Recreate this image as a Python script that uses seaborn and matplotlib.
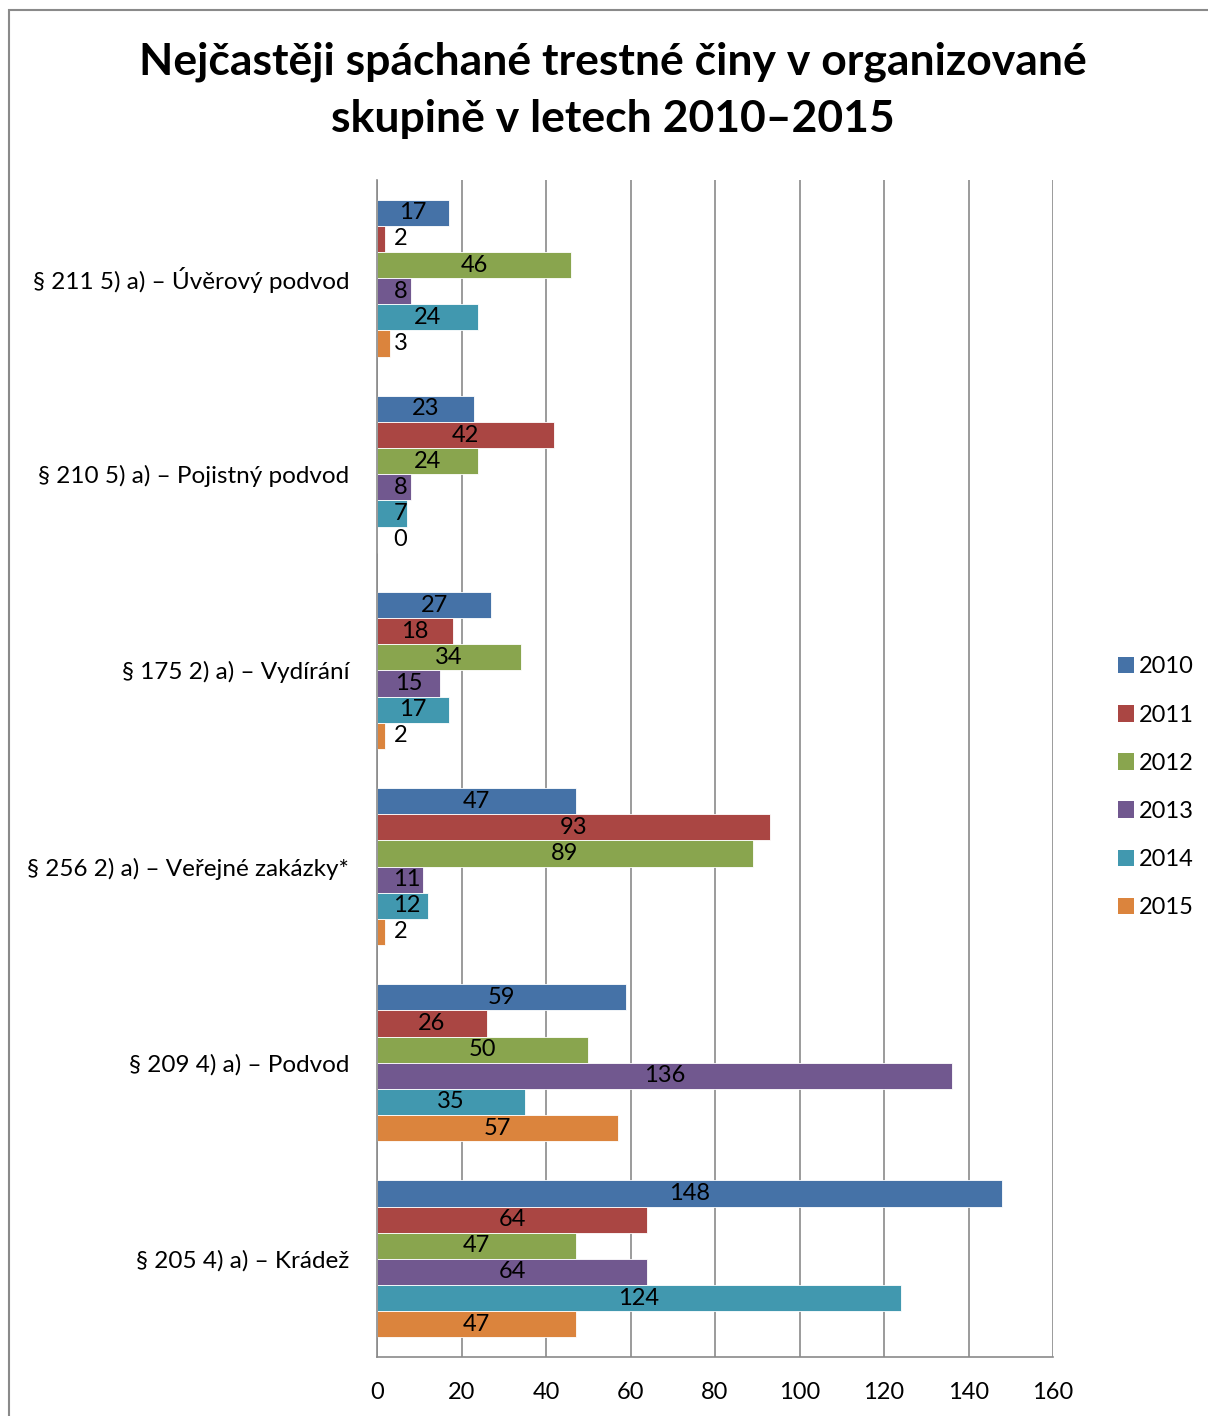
import numpy as np
import pandas as pd
import matplotlib
matplotlib.use("Agg")
import matplotlib.pyplot as plt
from matplotlib.patches import Rectangle, Patch
import seaborn as sns

# data
categories = ["§ 211 5) a) – Úvěrový podvod",
              "§ 210 5) a) – Pojistný podvod",
              "§ 175 2) a) – Vydírání",
              "§ 256 2) a) – Veřejné zakázky*",
              "§ 209 4) a) – Podvod",
              "§ 205 4) a) – Krádež"]
years = ["2010", "2011", "2012", "2013", "2014", "2015"]
v2010 = [17, 23, 27, 47, 59, 148]
v2011 = [2, 42, 18, 93, 26, 64]
v2012 = [46, 24, 34, 89, 50, 47]
v2013 = [8, 8, 15, 11, 136, 64]
v2014 = [24, 7, 17, 12, 35, 124]
v2015 = [3, 0, 2, 2, 57, 47]
colors = ["#4572A7", "#AA4643", "#89A54E", "#71588F", "#4198AF", "#DB843D"]

rows = []
for yr, vals in zip(years, [v2010, v2011, v2012, v2013, v2014, v2015]):
    for cat, v in zip(categories, vals):
        rows.append({"cat": cat, "year": yr, "value": v})
df = pd.DataFrame(rows)

sns.set_style("white")
plt.rcParams['font.family'] = ['Lato', 'DejaVu Sans']
plt.rcParams['text.color'] = 'black'
plt.rcParams['xtick.labelcolor'] = 'black'
plt.rcParams['ytick.labelcolor'] = 'black'

fig = plt.figure(figsize=(12.08, 14.16), dpi=100)
ax = fig.add_axes([377/1208, 1-1357/1416, (1053-377)/1208, (1357-180)/1416])

sns.barplot(data=df, y="cat", x="value", hue="year", orient="h",
            palette=colors, width=0.8, saturation=1, edgecolor="white",
            linewidth=0.6, ax=ax, legend=False)

ax.set_xlim(0, 160)
ax.set_ylim(5.5, -0.5)
ax.set_xticks(range(0, 161, 20))
ax.set_xlabel("")
ax.set_ylabel("")
ax.grid(axis="x", color="#8a8a8a", linewidth=1.2)
ax.set_axisbelow(True)
for s in ["top", "right"]:
    ax.spines[s].set_visible(False)
for s in ["left", "bottom"]:
    ax.spines[s].set_color("#8a8a8a")
    ax.spines[s].set_linewidth(1.2)
ax.tick_params(axis="x", direction="out", length=7, color="#8a8a8a", width=1.2,
               labelsize=17, pad=11, labelcolor="black")
ax.tick_params(axis="y", which="major", length=0, labelsize=17.5, pad=20,
               labelcolor="black")
ax.set_yticks(np.arange(-0.5, 6, 1), minor=True)
ax.tick_params(axis="y", which="minor", direction="out", length=6, color="#8a8a8a", width=1.2)

# bar labels
px_per_unit = (1053 - 377) / 160
for cont in ax.containers:
    for bar in cont:
        v = bar.get_width()
        n = len(str(int(round(v))))
        xmin = (17 + 6.5 * n) / px_per_unit
        x = max(v / 2, xmin)
        y = bar.get_y() + bar.get_height() / 2
        ax.text(x, y, f"{int(round(v))}", ha="center", va="center",
                fontsize=17, color="black")

handles = [Patch(facecolor=c, edgecolor="none") for c in colors]
ax.legend(handles, years, loc="center left", bbox_to_anchor=(1.064, 0.484),
          frameon=False, fontsize=17, handlelength=0.7, handleheight=0.7,
          handletextpad=0.2, labelspacing=1.15, labelcolor="black")

fig.text(613/1208, 1-62/1416, "Nejčastěji spáchané trestné činy v organizované",
         ha="center", va="center", fontsize=32, fontweight="bold", color="black")
fig.text(613/1208, 1-119/1416, "skupině v letech 2010–2015",
         ha="center", va="center", fontsize=32, fontweight="bold", color="black")

fig.patches.append(Rectangle((9/1208, -0.1), 1.2, 1 - 10/1416 + 0.1,
                             transform=fig.transFigure, fill=False,
                             edgecolor="#8a8a8a", linewidth=1.5))

fig.savefig("out.png", dpi=100)
